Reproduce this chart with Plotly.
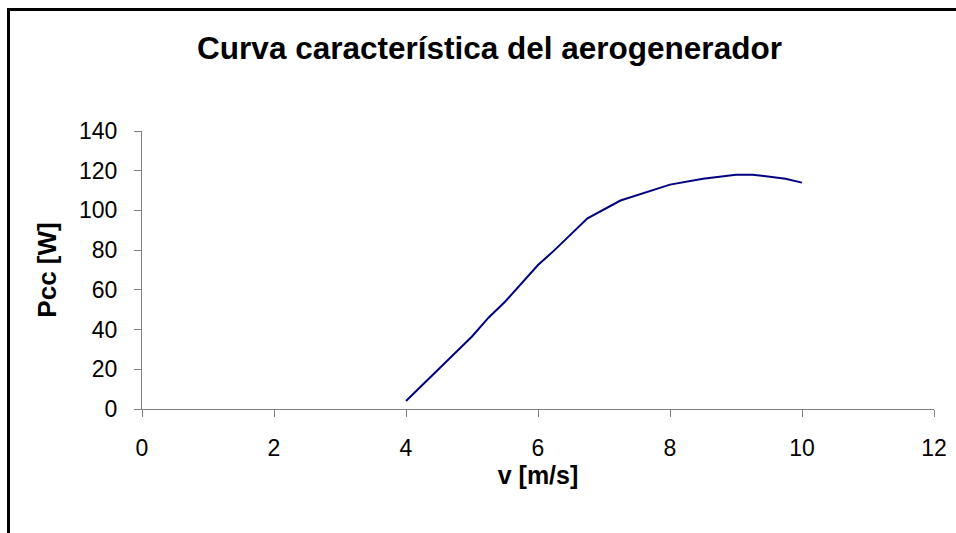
import plotly.graph_objects as go

# Measured characteristic curve of the wind turbine
wind_speed = [4, 4.5, 5, 5.25, 5.5, 6, 6.25, 6.75, 7, 7.25, 8, 8.5, 9, 9.25, 9.75, 10]
power_w = [4, 20, 36.5, 46, 54, 72.5, 80, 96, 100.5, 105, 113, 116, 118, 118, 116, 114]

x_ticks = [0, 2, 4, 6, 8, 10, 12]
y_ticks = [0, 20, 40, 60, 80, 100, 120, 140]

W, H = 956, 533
ML, MR, MT, MB = 142, 22, 131, 124
FONT = "Liberation Sans, Arial, sans-serif"

fig = go.Figure(
    go.Scatter(
        x=wind_speed,
        y=power_w,
        mode="lines",
        line=dict(color="#000080", width=2),
        showlegend=False,
    )
)

axis_common = dict(
    showgrid=False,
    zeroline=False,
    showline=True,
    linecolor="#808080",
    linewidth=1,
    ticks="outside",
    ticklen=7,
    tickcolor="#808080",
    tickwidth=1,
    tickfont=dict(family=FONT, size=23, color="black"),
    fixedrange=True,
)

fig.update_xaxes(
    range=[0, 12],
    tickvals=x_ticks,
    ticktext=[str(v) for v in x_ticks],
    ticklabelstandoff=11,
    title=dict(text="<b>v [m/s]</b>", font=dict(family=FONT, size=25, color="black"), standoff=2),
    **axis_common,
)
fig.update_yaxes(
    range=[0, 140],
    tickvals=y_ticks,
    ticktext=[str(v) for v in y_ticks],
    ticklabelstandoff=12,
    title=dict(text="<b>Pcc [W]</b>", font=dict(family=FONT, size=26, color="black"), standoff=14),
    **axis_common,
)

# Plot-area size, used to place the outer frame in paper units
pw = W - ML - MR
ph = H - MT - MB
fx = (8.5 - ML) / pw
fy = (H - MB - 9.5) / ph

fig.add_shape(
    type="rect", xref="paper", yref="paper",
    x0=fx, x1=2, y0=-2, y1=fy,
    line=dict(color="black", width=3),
    fillcolor="rgba(0,0,0,0)",
    layer="above",
)

fig.update_layout(
    width=W,
    height=H,
    margin=dict(l=ML, r=MR, t=MT, b=MB, autoexpand=False),
    paper_bgcolor="white",
    plot_bgcolor="white",
    title=dict(
        text="<b>Curva característica del aerogenerador</b>",
        font=dict(family=FONT, size=31.5, color="black"),
        xref="paper", yref="container",
        x=(489.5 - ML) / pw, xanchor="center",
        y=1 - 47.5 / H, yanchor="middle",
    ),
)

fig.write_html("out.html", config={"displayModeBar": False})
